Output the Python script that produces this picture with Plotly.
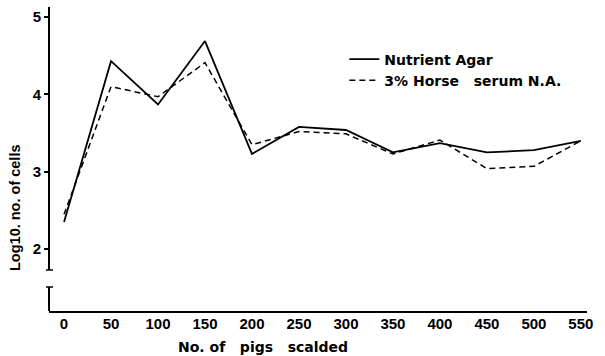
import plotly.graph_objects as go

pigs = [0, 50, 100, 150, 200, 250, 300, 350, 400, 450, 500, 550]
nutrient_agar = [2.35, 4.43, 3.87, 4.69, 3.23, 3.58, 3.54, 3.25, 3.37, 3.25, 3.28, 3.40]
horse_serum = [2.45, 4.10, 3.97, 4.41, 3.35, 3.52, 3.49, 3.23, 3.41, 3.04, 3.07, 3.40]
x_ticks = [0, 50, 100, 150, 200, 250, 300, 350, 400, 450, 500, 550]
y_ticks = [2, 3, 4, 5]

FONT = "Liberation Sans"
WIDE = "DejaVu Sans"

fig = go.Figure()
fig.add_trace(go.Scatter(x=pigs, y=nutrient_agar, mode="lines", name="Nutrient Agar",
                         line=dict(color="black", width=1.8)))
fig.add_trace(go.Scatter(x=pigs, y=horse_serum, mode="lines",
                         name="3% Horse\u00a0\u00a0 serum N.A.",
                         line=dict(color="black", width=1.5, dash="6px,4px")))

fig.update_layout(
    width=605, height=356,
    margin=dict(l=49, r=18, t=7, b=45),
    paper_bgcolor="white", plot_bgcolor="white",
    font=dict(family=FONT, color="black", size=14),
    xaxis=dict(range=[-16, 556.5], tickvals=x_ticks, ticktext=[str(v) for v in x_ticks],
               showgrid=False, zeroline=False, showline=True, linecolor="black", linewidth=2,
               ticks="", tickfont=dict(size=15, family=FONT, weight="bold"), ticklabelstandoff=-2),
    yaxis=dict(range=[1.20, 5.13], tickvals=y_ticks, ticktext=[str(v) for v in y_ticks],
               showgrid=False, zeroline=False, showline=False,
               ticks="outside", ticklen=4, tickwidth=1.5, tickcolor="black",
               tickfont=dict(size=15, family=FONT, weight="bold")),
    showlegend=True,
    legend=dict(x=0.549, y=0.88, xanchor="left", yanchor="top", bgcolor="rgba(0,0,0,0)",
                font=dict(size=14, family=WIDE, weight="bold"), tracegroupgap=0,
                itemwidth=30),
)

# broken y-axis line
fig.add_shape(type="line", xref="paper", yref="paper", x0=0, x1=0, y0=(311-270)/304, y1=1,
              line=dict(color="black", width=2))
fig.add_shape(type="line", xref="paper", yref="paper", x0=0, x1=0, y0=0, y1=(311-287)/304,
              line=dict(color="black", width=2))
fig.add_shape(type="line", xref="paper", yref="paper", x0=-3/538, x1=4/538,
              y0=(311-270)/304, y1=(311-270)/304, line=dict(color="black", width=1.5))
fig.add_shape(type="line", xref="paper", yref="paper", x0=-3/538, x1=4/538,
              y0=(311-287)/304, y1=(311-287)/304, line=dict(color="black", width=1.5))

fig.add_annotation(text="Log10. no. of cells", xref="paper", yref="paper",
                   x=(15-49)/538, y=(311-208)/304, xanchor="center", yanchor="middle",
                   textangle=-90, showarrow=False,
                   font=dict(size=14.5, family=FONT, weight="bold"))
fig.add_annotation(text="No. of\u00a0\u00a0 pigs\u00a0\u00a0 scalded", xref="paper", yref="paper",
                   x=(263-49)/538, y=(311-347)/304, xanchor="center", yanchor="middle",
                   showarrow=False,
                   font=dict(size=14, family=WIDE, weight="bold"))

fig.write_html("out.html")
